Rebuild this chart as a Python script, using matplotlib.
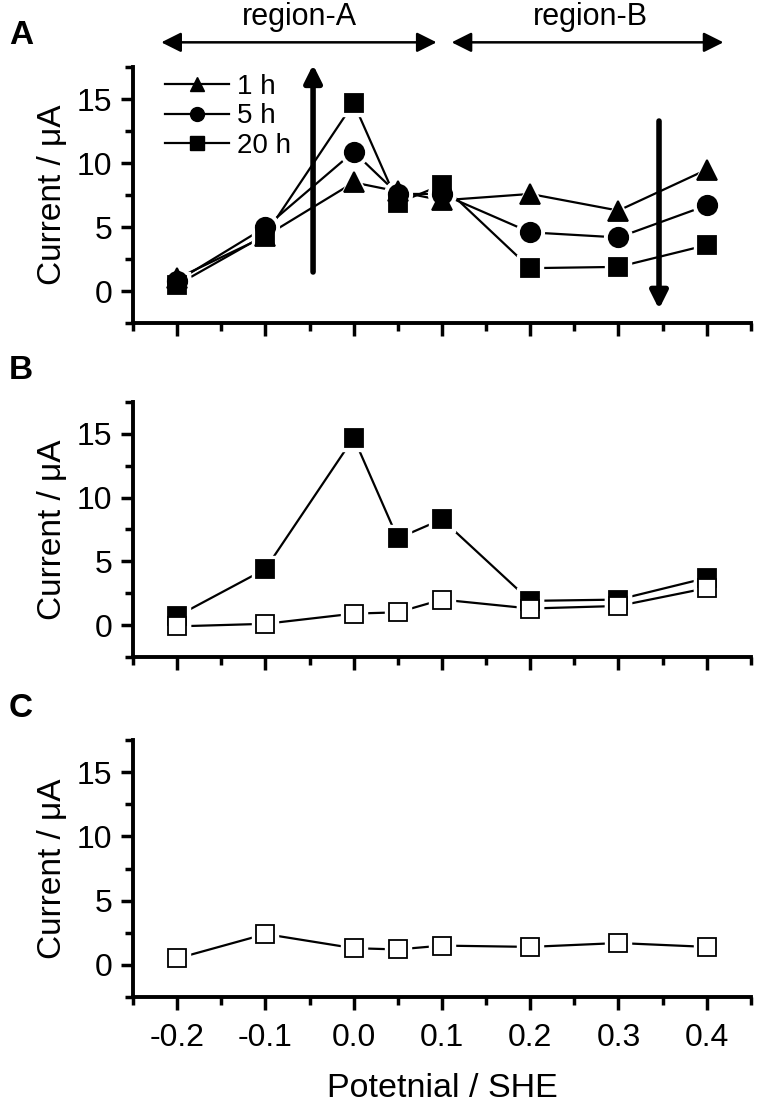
import numpy as np
import matplotlib.pyplot as plt
from matplotlib.ticker import MultipleLocator
from matplotlib.lines import Line2D

# data
potential = [-0.2, -0.1, 0.0, 0.05, 0.1, 0.2, 0.3, 0.4]
a_1h = [1.0, 4.3, 8.5, 7.8, 7.1, 7.6, 6.3, 9.5]
a_5h = [0.8, 5.0, 10.9, 7.6, 7.6, 4.6, 4.2, 6.7]
a_20h = [0.5, 4.4, 14.7, 6.9, 8.3, 1.8, 1.9, 3.6]
b_filled = [0.7, 4.4, 14.7, 6.8, 8.3, 1.9, 2.0, 3.7]
b_open = [-0.1, 0.1, 0.9, 1.0, 2.0, 1.3, 1.5, 2.9]
c_open = [0.5, 2.4, 1.3, 1.2, 1.5, 1.4, 1.7, 1.4]

xticks = [-0.2, -0.1, 0.0, 0.1, 0.2, 0.3, 0.4]
xticklabels = ['-0.2', '-0.1', '0.0', '0.1', '0.2', '0.3', '0.4']
yticks = [0, 5, 10, 15]

plt.rcParams['font.family'] = ['Liberation Sans', 'DejaVu Sans']

fig = plt.figure(figsize=(7.58, 11.03), dpi=100)
L, W = 0.1755, 0.815
axA = fig.add_axes([L, 0.707, W, 0.232])
axB = fig.add_axes([L, 0.4044, W, 0.2311])
axC = fig.add_axes([L, 0.0961, W, 0.233])


def series(ax, y, marker, fill, ms=13):
    ax.plot(potential, y, '-', color='black', lw=1.6, zorder=2)
    return (y, marker, fill, ms)


def markers(ax, items):
    # white halos first so the lines stop short of the symbols
    for y, m, fill, ms in items:
        ax.plot(potential, y, ls='none', marker=m, ms=ms + 6, mfc='white',
                mec='white', zorder=3)
    for y, m, fill, ms in items:
        ax.plot(potential, y, ls='none', marker=m, ms=ms,
                mfc='black' if fill else 'white', mec='black', mew=1.3, zorder=4)


itA = [series(axA, a_1h, '^', True, 14), series(axA, a_5h, 'o', True, 14),
       series(axA, a_20h, 's', True, 13)]
markers(axA, itA)
itB = [series(axB, b_filled, 's', True, 13), series(axB, b_open, 's', False, 13)]
markers(axB, itB)
itC = [series(axC, c_open, 's', False, 13)]
markers(axC, itC)

for ax in (axA, axB, axC):
    ax.set_xlim(-0.25, 0.45)
    ax.set_ylim(-2.5, 17.5)
    for s in ('top', 'right'):
        ax.spines[s].set_visible(False)
    for s in ('left', 'bottom'):
        ax.spines[s].set_linewidth(2.8)
    ax.set_xticks(xticks)
    ax.xaxis.set_minor_locator(MultipleLocator(0.05))
    ax.set_yticks(yticks)
    ax.yaxis.set_minor_locator(MultipleLocator(2.5))
    ax.tick_params(which='major', direction='out', length=9, width=2.5)
    ax.tick_params(which='minor', direction='out', length=6, width=2.5)
    ax.set_yticklabels([str(v) for v in yticks], fontsize=23)
    ax.set_ylabel('Current / μA', fontsize=24, labelpad=6)
    ax.tick_params(axis='y', pad=6)

for ax in (axA, axB):
    ax.set_xticklabels([])
axC.set_xticklabels(xticklabels, fontsize=23)
axC.tick_params(axis='x', pad=10)
axC.set_xlabel('Potetnial / SHE', fontsize=24.5, labelpad=14)

for ax, lab in ((axA, 'A'), (axB, 'B'), (axC, 'C')):
    ax.text(0.012, ax.get_position().y1 + 0.029, lab, transform=fig.transFigure,
            fontsize=24, fontweight='bold', va='center', ha='left')

# legend
handles = [Line2D([], [], color='black', lw=1.6, marker=m, ms=10)
           for m in ('^', 'o', 's')]
axA.legend(handles, ['1 h', '5 h', '20 h'], loc='upper left',
           bbox_to_anchor=(0.02, 1.05), frameon=False,
           prop={'size': 20}, handlelength=2.3,
           handletextpad=0.3, labelspacing=0.12, borderaxespad=0.3)

# region arrows and labels
arw = dict(arrowstyle='<|-|>', color='black', lw=1.8, mutation_scale=30,
           shrinkA=0, shrinkB=0)
axA.annotate('', xy=(0.094, 19.45), xytext=(-0.218, 19.45), arrowprops=arw,
             annotation_clip=False)
axA.annotate('', xy=(0.419, 19.45), xytext=(0.111, 19.45), arrowprops=arw,
             annotation_clip=False)
axA.text(-0.062, 21.4, 'region-A', ha='center', va='center', fontsize=22,
         clip_on=False)
axA.text(0.268, 21.4, 'region-B', ha='center', va='center', fontsize=22,
         clip_on=False)

vert = dict(arrowstyle='-|>', color='black', lw=4, mutation_scale=26,
            shrinkA=0, shrinkB=0)
axA.annotate('', xy=(-0.046, 17.7), xytext=(-0.046, 1.5), arrowprops=vert,
             annotation_clip=False)
axA.annotate('', xy=(0.346, -1.4), xytext=(0.346, 13.3), arrowprops=vert,
             annotation_clip=False)

fig.savefig('out.png', dpi=100)
